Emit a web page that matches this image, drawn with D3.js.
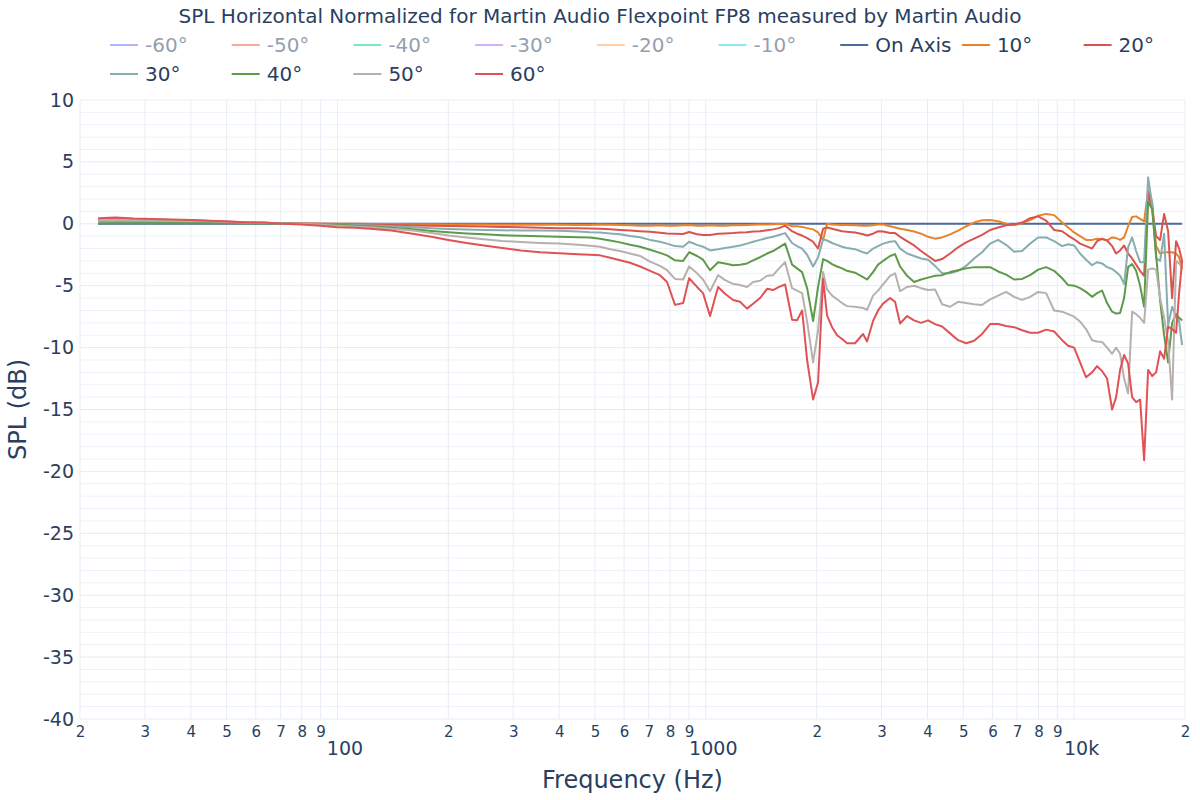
<!DOCTYPE html>
<html><head><meta charset="utf-8">
<script src="https://cdn.jsdelivr.net/npm/d3@7"></script>
<style>
body{margin:0;background:#fff}
svg{font-family:"DejaVu Sans",verdana,arial,sans-serif}
</style>
</head><body>
<svg id="chart" width="1200" height="800"></svg>
<script>
// ---------- data ----------
const freqs = [22.4,25,28,31.5,35.5,40,45,50,56,63,71,80,90,100,112,125,140,160,180,200,224,250,280,315,355,400,450,485,
516,550,585,623,663,706,751,785,825,868,
901,947,983,1027,1080,1128,1186,1239,1294,1344,
1404,1467,1523,1581,1642,1715,1769,1826,1884,1956,
2018,2082,2134,2202,2272,2344,2418,2542,2673,2741,
2845,2936,3029,3165,3265,3369,3520,3677,3842,4014,
4193,4381,4606,4842,5090,5352,5626,5915,6219,6537,
6873,7225,7596,7986,8395,8826,9279,9633,10001,10378,
10776,11188,11544,11911,12290,12681,13002,13331,13669,14015,
14370,14734,15107,15490,15882,16285,16697,17119,17553,17997,
18452,18919,19278,19642];

const onAxisFreqs = [22.4, 19642];
const onAxis = [0, 0];

const deg10 = [0.2,0.22,0.2,0.18,0.15,0.15,0.12,0.1,0.08,0.06,0.04,0.02,0.01,0.0,0.0,-0.01,-0.02,-0.03,-0.04,-0.05,-0.05,-0.06,-0.07,-0.08,-0.08,-0.08,-0.1,-0.1,
-0.05,-0.08,-0.1,-0.12,-0.15,-0.15,-0.12,-0.15,-0.15,-0.12,
-0.1,-0.15,-0.15,-0.12,-0.15,-0.15,-0.12,-0.12,-0.1,-0.08,
-0.05,-0.05,-0.03,-0.02,0.0,-0.2,-0.2,-0.25,-0.35,-0.45,
-0.7,-1.3,0.0,-0.05,-0.08,-0.1,-0.1,-0.12,-0.15,-0.15,
-0.12,-0.05,-0.05,-0.2,-0.3,-0.4,-0.5,-0.62,-0.8,-1.05,
-1.2,-1.1,-0.85,-0.55,-0.2,0.1,0.28,0.3,0.2,0.0,
-0.1,0.05,0.3,0.65,0.8,0.7,0.1,-0.3,-0.7,-1.0,
-1.3,-1.3,-1.2,-1.25,-1.33,-1.1,-1.15,-1.3,-1.1,-0.2,
0.55,0.6,0.4,0.2,2.7,1.8,-1.8,-2.4,-2.3,-2.3,
-2.3,-2.4,-2.7,-3.7];

const deg20 = [0.35,0.4,0.38,0.35,0.3,0.28,0.22,0.18,0.12,0.08,0.05,0.02,0.0,-0.02,-0.05,-0.07,-0.1,-0.13,-0.16,-0.18,-0.2,-0.22,-0.25,-0.28,-0.32,-0.35,-0.36,-0.37,
-0.4,-0.45,-0.5,-0.55,-0.6,-0.65,-0.72,-0.78,-0.8,-0.82,
-0.66,-0.85,-0.9,-0.9,-0.8,-0.78,-0.75,-0.7,-0.68,-0.62,
-0.6,-0.52,-0.45,-0.35,-0.15,-0.6,-0.8,-0.95,-1.15,-1.45,
-2.0,-0.4,-0.3,-0.4,-0.5,-0.6,-0.65,-0.7,-0.85,-0.95,
-0.8,-0.6,-0.62,-0.75,-0.75,-1.05,-1.4,-1.75,-2.2,-2.6,
-3.0,-2.85,-2.4,-1.9,-1.5,-1.2,-0.9,-0.5,-0.3,-0.12,
-0.05,0.1,0.45,0.6,0.25,-0.5,-0.6,-0.95,-1.25,-1.6,
-1.8,-2.0,-1.4,-1.2,-1.35,-1.8,-2.4,-2.15,-1.75,-2.4,
-2.8,-3.3,-3.8,-4.2,2.5,1.2,-1.0,-1.3,0.8,-0.6,
-6.0,-1.4,-2.0,-3.0];

const deg30 = [0.15,0.18,0.15,0.15,0.12,0.12,0.1,0.08,0.06,0.05,0.02,0.0,-0.02,-0.05,-0.1,-0.14,-0.2,-0.27,-0.35,-0.42,-0.47,-0.5,-0.52,-0.55,-0.55,-0.57,-0.62,-0.68,
-0.7,-0.78,-0.85,-0.98,-1.08,-1.3,-1.45,-1.6,-1.8,-1.85,
-1.45,-1.7,-1.85,-2.15,-2.05,-1.95,-1.85,-1.75,-1.6,-1.45,
-1.3,-1.15,-1.05,-0.9,-0.75,-1.55,-1.8,-2.0,-2.5,-3.45,
-2.7,-1.25,-1.35,-1.55,-1.7,-1.85,-1.95,-2.05,-2.3,-2.4,
-2.0,-1.8,-1.6,-1.45,-1.4,-2.0,-2.4,-2.6,-2.8,-2.9,
-3.4,-4.0,-4.0,-3.8,-3.4,-2.8,-2.3,-1.6,-1.3,-1.7,
-2.25,-2.2,-1.6,-1.1,-1.1,-1.4,-1.8,-1.65,-1.75,-2.4,
-2.9,-3.35,-3.1,-3.2,-3.5,-3.65,-3.9,-4.2,-4.85,-1.9,
-1.1,-2.2,-3.1,-3.1,3.75,1.6,-2.8,-3.0,-0.8,-8.2,
-6.7,-7.5,-7.9,-9.8];

const deg40 = [0.02,0.05,0.05,0.05,0.05,0.05,0.05,0.05,0.02,0.02,0.0,-0.02,-0.05,-0.08,-0.15,-0.22,-0.32,-0.45,-0.58,-0.68,-0.78,-0.85,-0.92,-0.97,-1.0,-1.05,-1.08,-1.1,
-1.2,-1.35,-1.5,-1.7,-1.85,-2.1,-2.35,-2.55,-2.95,-3.0,
-2.3,-2.6,-2.9,-3.75,-3.1,-3.2,-3.35,-3.3,-3.2,-2.95,
-2.7,-2.4,-2.2,-1.9,-1.6,-3.3,-3.6,-3.9,-5.2,-7.85,
-5.1,-2.85,-3.0,-3.25,-3.45,-3.6,-3.8,-3.95,-4.3,-4.5,
-3.9,-3.3,-3.0,-2.6,-2.45,-3.45,-4.2,-4.7,-4.5,-4.35,
-4.2,-4.15,-3.9,-3.75,-3.6,-3.5,-3.5,-3.5,-3.85,-4.1,
-4.5,-4.45,-4.15,-3.7,-3.5,-3.8,-4.4,-4.95,-5.0,-5.2,
-5.5,-5.9,-5.6,-5.4,-6.4,-7.1,-7.25,-7.2,-6.0,-3.5,
-3.25,-3.8,-5.0,-6.7,1.8,1.2,-2.5,-6.2,-9.0,-11.2,
-8.0,-7.3,-7.6,-7.8];

const deg50 = [0.3,0.32,0.3,0.28,0.25,0.22,0.2,0.15,0.1,0.08,0.02,0.0,-0.08,-0.15,-0.22,-0.3,-0.4,-0.55,-0.75,-0.95,-1.1,-1.25,-1.38,-1.48,-1.55,-1.6,-1.7,-1.78,
-1.85,-2.05,-2.2,-2.4,-2.6,-3.05,-3.4,-3.75,-4.45,-4.5,
-3.45,-4.0,-4.5,-5.45,-4.15,-4.55,-4.85,-4.95,-5.1,-4.7,
-4.6,-4.2,-4.15,-3.6,-3.1,-5.2,-5.4,-5.6,-7.9,-11.2,
-8.6,-3.9,-5.3,-5.8,-6.1,-6.4,-6.65,-6.7,-6.8,-6.95,
-5.8,-5.4,-4.9,-4.2,-4.0,-5.45,-5.1,-5.0,-5.2,-5.35,
-5.3,-6.5,-6.7,-6.3,-6.4,-6.5,-6.55,-6.1,-5.8,-5.5,
-5.9,-6.15,-5.9,-5.5,-5.6,-7.0,-7.1,-7.3,-7.5,-7.9,
-8.5,-9.4,-9.5,-9.55,-10.0,-10.5,-10.0,-10.5,-12.5,-13.7,
-7.1,-7.3,-7.6,-8.0,-3.7,-3.6,-3.7,-6.0,-7.6,-9.5,
-14.2,-3.0,-3.2,-3.5];

const deg60 = [0.45,0.5,0.42,0.38,0.35,0.3,0.25,0.18,0.12,0.1,0.0,-0.05,-0.15,-0.28,-0.32,-0.42,-0.55,-0.8,-1.05,-1.3,-1.55,-1.75,-1.95,-2.15,-2.3,-2.38,-2.45,-2.5,
-2.55,-2.75,-2.95,-3.15,-3.45,-3.8,-4.15,-4.7,-6.55,-6.4,
-4.4,-5.1,-5.6,-7.45,-5.1,-5.65,-6.15,-6.3,-6.85,-6.45,
-6.0,-5.25,-5.35,-5.1,-4.9,-7.75,-7.8,-7.0,-11.0,-14.2,
-12.8,-4.45,-7.4,-8.35,-9.0,-9.3,-9.65,-9.65,-8.9,-9.5,
-7.85,-7.0,-6.45,-6.0,-6.3,-8.05,-7.45,-7.8,-8.0,-7.8,
-8.1,-8.3,-8.85,-9.4,-9.65,-9.45,-8.9,-8.1,-8.1,-8.25,
-8.35,-8.6,-8.8,-8.8,-8.55,-8.7,-9.4,-9.85,-10.0,-11.2,
-12.4,-12.0,-11.5,-11.9,-12.5,-15.0,-14.0,-11.8,-10.6,-11.3,
-14.0,-14.4,-14.2,-19.1,-11.8,-12.3,-12.0,-10.3,-10.9,-8.3,
-8.5,-8.8,-5.6,-3.0];

const legendLabels = ["-60°","-50°","-40°","-30°","-20°","-10°","On Axis","10°","20°","30°","40°","50°","60°"];
const legendColors = ["#636efa","#EF553B","#00cc96","#ab63fa","#FFA15A","#19d3f3","#4C6A9C","#E8832A","#D9534F","#87ADAE","#5E9A48","#B8B0AC","#E05256"];
const legendHidden = [true,true,true,true,true,true,false,false,false,false,false,false,false];

const yTicks = [10,5,0,-5,-10,-15,-20,-25,-30,-35,-40];
const xMajorLabels = {100:"100",1000:"1000",10000:"10k"};

const titleText = "SPL Horizontal Normalized for Martin Audio Flexpoint FP8 measured by Martin Audio";
const xTitle = "Frequency (Hz)";
const yTitle = "SPL (dB)";

// ---------- drawing ----------
const FONT = '"DejaVu Sans",verdana,arial,sans-serif';
const textColor = "#2a3f5f";
const svg = d3.select("#chart");
const L = 80, R = 1185, T = 100, B = 719;
const x = d3.scaleLog().domain([20, 20000]).range([L, R]);
const y = d3.scaleLinear().domain([-40, 10]).range([B, T]);

// grids
const minorY = d3.range(-40, 11, 1).filter(v => v % 5 !== 0);
svg.append("g").selectAll("line").data(minorY).join("line")
  .attr("x1", L).attr("x2", R).attr("y1", d => y(d)).attr("y2", d => y(d))
  .attr("stroke", "#eef2f8").attr("stroke-width", 1);
const xGridVals = x.ticks();
svg.append("g").selectAll("line").data(xGridVals).join("line")
  .attr("x1", d => x(d)).attr("x2", d => x(d)).attr("y1", T).attr("y2", B)
  .attr("stroke", "#e8edf5").attr("stroke-width", 1);
svg.append("g").selectAll("line").data(yTicks).join("line")
  .attr("x1", L).attr("x2", R).attr("y1", d => y(d)).attr("y2", d => y(d))
  .attr("stroke", "#e6ecf4").attr("stroke-width", 1);

// y axis
const yAxis = d3.axisLeft(y).tickValues(yTicks).tickSize(0).tickPadding(6).tickFormat(d => String(d));
const gy = svg.append("g").attr("transform", `translate(${L},0)`).call(yAxis);
gy.select(".domain").remove();
gy.selectAll("text").attr("fill", textColor).attr("font-size", 19).attr("font-family", FONT);

// x axis (minor digits)
const xAxis = d3.axisBottom(x).tickValues(xGridVals).tickSize(0).tickPadding(7)
  .tickFormat(d => xMajorLabels[d] ? "" : String(d).charAt(0));
const gx = svg.append("g").attr("transform", `translate(0,${B})`).call(xAxis);
gx.select(".domain").remove();
gx.selectAll("text").attr("fill", textColor).attr("font-size", 15).attr("font-family", FONT);
// x axis major labels (second row)
const xMajor = d3.axisBottom(x).tickValues(Object.keys(xMajorLabels).map(Number)).tickSize(0).tickPadding(23)
  .tickFormat(d => xMajorLabels[d]);
const gx2 = svg.append("g").attr("transform", `translate(7,${B})`).call(xMajor);
gx2.select(".domain").remove();
gx2.selectAll("text").attr("fill", textColor).attr("font-size", 19).attr("font-family", FONT);

// lines
const line = d3.line().x(d => x(d[0])).y(d => y(d[1]));
const series = [
  {f: onAxisFreqs, v: onAxis, c: legendColors[6]},
  {f: freqs, v: deg10, c: legendColors[7]},
  {f: freqs, v: deg20, c: legendColors[8]},
  {f: freqs, v: deg30, c: legendColors[9]},
  {f: freqs, v: deg40, c: legendColors[10]},
  {f: freqs, v: deg50, c: legendColors[11]},
  {f: freqs, v: deg60, c: legendColors[12]}
];
const plot = svg.append("g");
series.forEach(s => {
  plot.append("path").datum(s.f.map((f, i) => [f, s.v[i]]))
    .attr("d", line).attr("fill", "none").attr("stroke", s.c)
    .attr("stroke-width", 2).attr("stroke-linejoin", "round");
});

// title
svg.append("text").attr("x", 600).attr("y", 23).attr("text-anchor", "middle")
  .attr("font-size", 20).attr("fill", textColor).attr("font-family", FONT).text(titleText);

// legend
const itemW = 121.7, lx0 = 105, rowY = [45, 74], perRow = 9;
const lg = svg.append("g");
legendLabels.forEach((lab, i) => {
  const col = i % perRow, row = Math.floor(i / perRow);
  const g = lg.append("g").attr("transform", `translate(${lx0 + col * itemW},${rowY[row]})`)
    .attr("opacity", legendHidden[i] ? 0.5 : 1);
  g.append("line").attr("x1", 5).attr("x2", 33).attr("y1", 0).attr("y2", 0)
    .attr("stroke", legendColors[i]).attr("stroke-width", 2);
  g.append("text").attr("x", 40).attr("y", 0).attr("dy", "0.35em")
    .attr("font-size", 20).attr("fill", textColor).attr("font-family", FONT).text(lab);
});

// axis titles
svg.append("text").attr("x", (L + R) / 2).attr("y", 788).attr("text-anchor", "middle")
  .attr("font-size", 24).attr("fill", textColor).attr("font-family", FONT).text(xTitle);
svg.append("text").attr("transform", `translate(26,${(T + B) / 2}) rotate(-90)`)
  .attr("text-anchor", "middle").attr("font-size", 24).attr("fill", textColor).attr("font-family", FONT).text(yTitle);
</script>
</body></html>
